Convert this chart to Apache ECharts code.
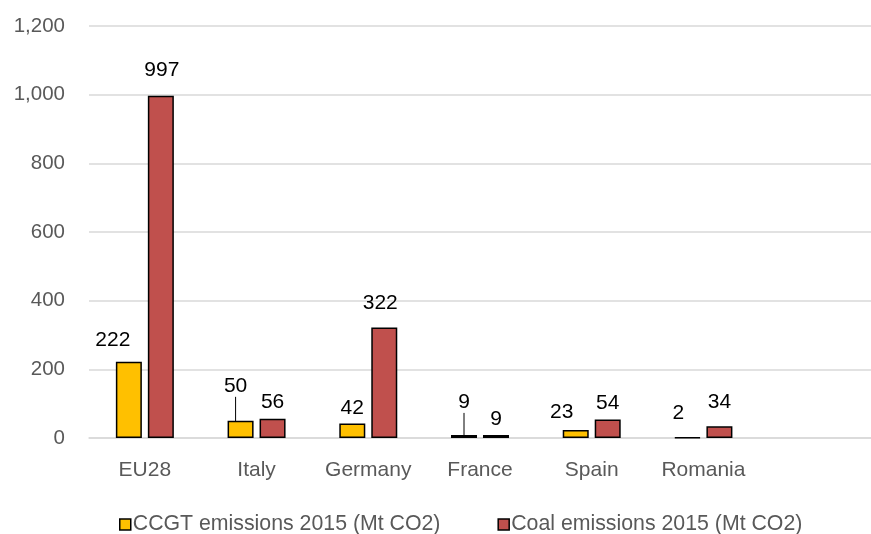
<!DOCTYPE html>
<html>
<head>
<meta charset="utf-8">
<script src="https://cdn.jsdelivr.net/npm/echarts@6/dist/echarts.min.js"></script>
<style>
  html, body { margin: 0; padding: 0; background: #ffffff; }
  #chart { width: 871px; height: 534px; }
</style>
</head>
<body>
<div id="chart"></div>
<script>
// Categories (last slot left empty on purpose, as in the worksheet range)
const countries = ['EU28', 'Italy', 'Germany', 'France', 'Spain', 'Romania', ''];
const ccgtEmissions = [222, 50, 42, 9, 23, 2, null];
const coalEmissions = [997, 56, 322, 9, 54, 34, null];
const yTicks = { min: 0, max: 1200, interval: 200 };
const seriesNames = ['CCGT emissions 2015 (Mt CO2)', 'Coal emissions 2015 (Mt CO2)'];

// Manual label placements [dx, dy, showGuideLine] per series / category
const labelNudges = [
  [[-16, -6, false], [-5, -19, true], [0, 0, false], [0, -17, true], [-14, -2, false], [-9, -8, false]],
  [[1, -10, false], [0, -1, false], [-4, -9, false], [0, 0, false], [0, -1, false], [0, -9, false]]
];

const FONT = 'Liberation Sans';
const chart = echarts.init(document.getElementById('chart'), null, { renderer: 'canvas' });

function makeSeries(idx, values, color) {
  return {
    name: seriesNames[idx],
    type: 'bar',
    data: values.map((v, i) => ({
      value: v,
      labelLine: { show: !!(labelNudges[idx][i] && labelNudges[idx][i][2]) }
    })),
    barWidth: 26,
    barGap: '23%',
    itemStyle: { color: color, borderColor: '#000000', borderWidth: 1.5 },
    label: {
      show: true,
      position: 'top',
      distance: 5,
      color: '#000000',
      fontFamily: FONT,
      fontSize: 21
    },
    labelLine: { show: false, lineStyle: { color: '#000000', width: 1 } },
    labelLayout: function (p) {
      const n = labelNudges[idx][p.dataIndex];
      if (!n) return {};
      return { dx: n[0], dy: n[1] };
    }
  };
}

chart.setOption({
  animation: false,
  backgroundColor: '#ffffff',
  grid: { left: 89, top: 26, width: 798, height: 412, containLabel: false },
  xAxis: {
    type: 'category',
    data: countries,
    axisLine: { show: true, lineStyle: { color: '#D9D9D9', width: 1.5 } },
    axisTick: { show: false },
    axisLabel: { interval: 0, color: '#595959', fontFamily: FONT, fontSize: 21, margin: 22 }
  },
  yAxis: {
    type: 'value',
    min: yTicks.min,
    max: yTicks.max,
    interval: yTicks.interval,
    axisLine: { show: false },
    axisTick: { show: false },
    splitLine: { lineStyle: { color: '#D9D9D9', width: 1.5 } },
    axisLabel: {
      color: '#595959', fontFamily: FONT, fontSize: 20.5, margin: 24,
      formatter: v => v.toLocaleString('en-US')
    }
  },
  legend: {
    data: seriesNames,
    top: 509,
    left: 114,
    itemWidth: 11,
    itemHeight: 11,
    itemGap: 57,
    icon: 'rect',
    textStyle: { color: '#595959', fontFamily: FONT, fontSize: 21.3, padding: [0, 0, 0, -3] },
    itemStyle: { borderColor: '#000000', borderWidth: 1.5 }
  },
  series: [
    makeSeries(0, ccgtEmissions, '#FFC000'),
    makeSeries(1, coalEmissions, '#C0504D')
  ]
});
</script>
</body>
</html>
